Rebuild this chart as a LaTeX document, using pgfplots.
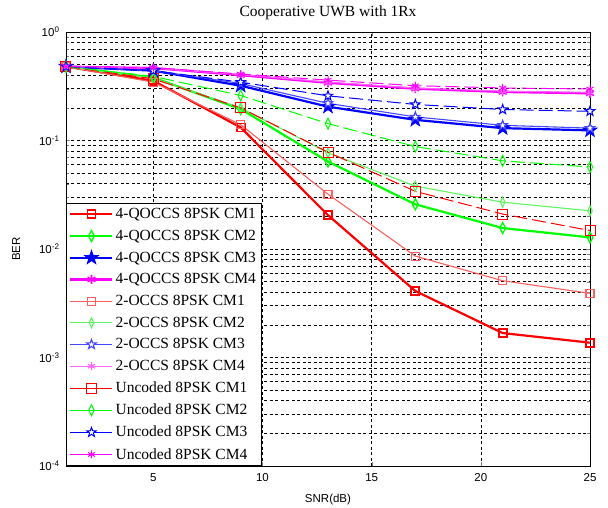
\documentclass[border=0pt]{standalone}
\usepackage{pgfplots}
\pgfplotsset{compat=1.18}
\usepackage{fontspec}
\setmainfont{Liberation Serif}
\setsansfont{Liberation Sans}
\usetikzlibrary{plotmarks}
\definecolor{lred}{RGB}{255,95,95}
\definecolor{lgreen}{RGB}{95,245,95}
\definecolor{lblue}{RGB}{70,70,255}
\definecolor{lmag}{RGB}{255,100,255}
\definecolor{mag}{RGB}{255,0,255}
\pgfdeclareplotmark{pentagram}{%
  \pgfpathmoveto{\pgfpointpolar{90}{\pgfplotmarksize}}%
  \pgfpathlineto{\pgfpointpolar{126}{0.40\pgfplotmarksize}}%
  \pgfpathlineto{\pgfpointpolar{162}{\pgfplotmarksize}}%
  \pgfpathlineto{\pgfpointpolar{198}{0.40\pgfplotmarksize}}%
  \pgfpathlineto{\pgfpointpolar{234}{\pgfplotmarksize}}%
  \pgfpathlineto{\pgfpointpolar{270}{0.40\pgfplotmarksize}}%
  \pgfpathlineto{\pgfpointpolar{306}{\pgfplotmarksize}}%
  \pgfpathlineto{\pgfpointpolar{342}{0.40\pgfplotmarksize}}%
  \pgfpathlineto{\pgfpointpolar{18}{\pgfplotmarksize}}%
  \pgfpathlineto{\pgfpointpolar{54}{0.40\pgfplotmarksize}}%
  \pgfpathclose
  \pgfusepathqfillstroke}
\begin{document}
\begin{tikzpicture}
\path[use as bounding box] (-66bp,-42bp) rectangle (542bp,466bp);
\begin{axis}[
  at={(0,0)}, anchor=south west,
  scale only axis, width=524bp, height=434bp,
  ymode=log, xmin=1, xmax=25, ymin=1e-4, ymax=1,
  xtick={5,10,15,20,25}, xticklabels={5,10,15,20,25},
  ytick={1e-4,1e-3,1e-2,1e-1,1},
  yticklabels={10\textsuperscript{-4},10\textsuperscript{-3},10\textsuperscript{-2},10\textsuperscript{-1},10\textsuperscript{0}},
  tick label style={font=\sffamily\fontsize{11.5bp}{13bp}\selectfont},
  xticklabel style={yshift=-4bp},
  yticklabel style={xshift=-3bp},
  tick align=inside,
  xmajorgrids, ymajorgrids, yminorgrids,
  major grid style={black, line width=0.5bp, dash pattern=on 3bp off 2.5bp},
  minor grid style={black, line width=0.5bp, dash pattern=on 3bp off 2.5bp},
  axis line style={black, line width=0.8bp},
  title={Cooperative UWB with 1Rx},
  title style={font=\fontsize{15.5bp}{17bp}\selectfont, yshift=3bp},
  xlabel={SNR(dB)}, ylabel={BER},
  label style={font=\sffamily\fontsize{11.5bp}{13bp}\selectfont},
  xlabel style={yshift=-6bp},
  ylabel style={yshift=12bp},
  legend style={at={(rel axis cs:0,0)}, anchor=south west, draw=black, line width=0.8bp,
    font=\fontsize{15.5bp}{18bp}\selectfont, row sep=5.9bp, inner xsep=3bp, inner ysep=3bp},
  legend cell align=left,
  legend image code/.code={\draw[mark repeat=2,mark phase=2] plot coordinates {(0bp,0bp) (21bp,0bp) (42bp,0bp)};},
]
% 4-QOCCS
\addplot[red, line width=2.2bp, mark=square, mark size=4bp, mark options={solid, line width=1.8bp}] coordinates {(1,0.48) (5,0.355) (9,0.132) (13,0.0205) (17,0.0041) (21,0.00168) (25,0.00137)};
\addlegendentry{4-QOCCS 8PSK CM1}
\addplot[green, line width=2.2bp, mark=diamond, mark size=5.5bp, mark options={solid, xscale=0.7, line width=1.3bp}] coordinates {(1,0.48) (5,0.38) (9,0.195) (13,0.064) (17,0.0258) (21,0.0156) (25,0.0128)};
\addlegendentry{4-QOCCS 8PSK CM2}
\addplot[blue, line width=2.2bp, mark=pentagram, mark size=7bp, mark options={solid, fill=blue, line width=1bp}] coordinates {(1,0.48) (5,0.44) (9,0.32) (13,0.205) (17,0.155) (21,0.13) (25,0.124)};
\addlegendentry{4-QOCCS 8PSK CM3}
\addplot[mag, line width=2.2bp, mark=asterisk, mark size=4.5bp, mark options={solid, line width=1.6bp}] coordinates {(1,0.48) (5,0.465) (9,0.40) (13,0.34) (17,0.30) (21,0.28) (25,0.272)};
\addlegendentry{4-QOCCS 8PSK CM4}
% 2-OCCS
\addplot[lred, line width=1.1bp, mark=square, mark size=4bp, mark options={solid}] coordinates {(1,0.48) (5,0.345) (9,0.14) (13,0.032) (17,0.0086) (21,0.0051) (25,0.0039)};
\addlegendentry{2-OCCS 8PSK CM1}
\addplot[lgreen, line width=1.1bp, mark=diamond, mark size=5bp, mark options={solid, xscale=0.6}] coordinates {(1,0.48) (5,0.375) (9,0.2) (13,0.077) (17,0.038) (21,0.027) (25,0.0225)};
\addlegendentry{2-OCCS 8PSK CM2}
\addplot[lblue, line width=1.1bp, mark=pentagram, mark size=5bp, mark options={solid, fill=white}] coordinates {(1,0.48) (5,0.44) (9,0.335) (13,0.22) (17,0.165) (21,0.138) (25,0.13)};
\addlegendentry{2-OCCS 8PSK CM3}
\addplot[lmag, line width=1.1bp, mark=asterisk, mark size=4bp, mark options={solid}] coordinates {(1,0.48) (5,0.465) (9,0.405) (13,0.345) (17,0.305) (21,0.285) (25,0.278)};
\addlegendentry{2-OCCS 8PSK CM4}
% Uncoded
\addplot[red, line width=1bp, dash pattern=on 14bp off 5bp, legend image post style={solid}, mark=square, mark size=5bp, mark options={solid}] coordinates {(1,0.48) (5,0.37) (9,0.2) (13,0.078) (17,0.034) (21,0.021) (25,0.0148)};
\addlegendentry{Uncoded 8PSK CM1}
\addplot[green, line width=1bp, dash pattern=on 14bp off 5bp, legend image post style={solid}, mark=diamond, mark size=5.5bp, mark options={solid, xscale=0.65}] coordinates {(1,0.48) (5,0.39) (9,0.26) (13,0.143) (17,0.088) (21,0.065) (25,0.057)};
\addlegendentry{Uncoded 8PSK CM2}
\addplot[blue, line width=1bp, dash pattern=on 14bp off 5bp, legend image post style={solid}, mark=pentagram, mark size=5bp, mark options={solid, fill=white}] coordinates {(1,0.48) (5,0.44) (9,0.345) (13,0.258) (17,0.215) (21,0.193) (25,0.186)};
\addlegendentry{Uncoded 8PSK CM3}
\addplot[mag, line width=1bp, dash pattern=on 14bp off 5bp, legend image post style={solid}, mark=asterisk, mark size=4bp, mark options={solid}] coordinates {(1,0.48) (5,0.47) (9,0.41) (13,0.36) (17,0.32) (21,0.305) (25,0.298)};
\addlegendentry{Uncoded 8PSK CM4}
\end{axis}
\end{tikzpicture}
\end{document}
